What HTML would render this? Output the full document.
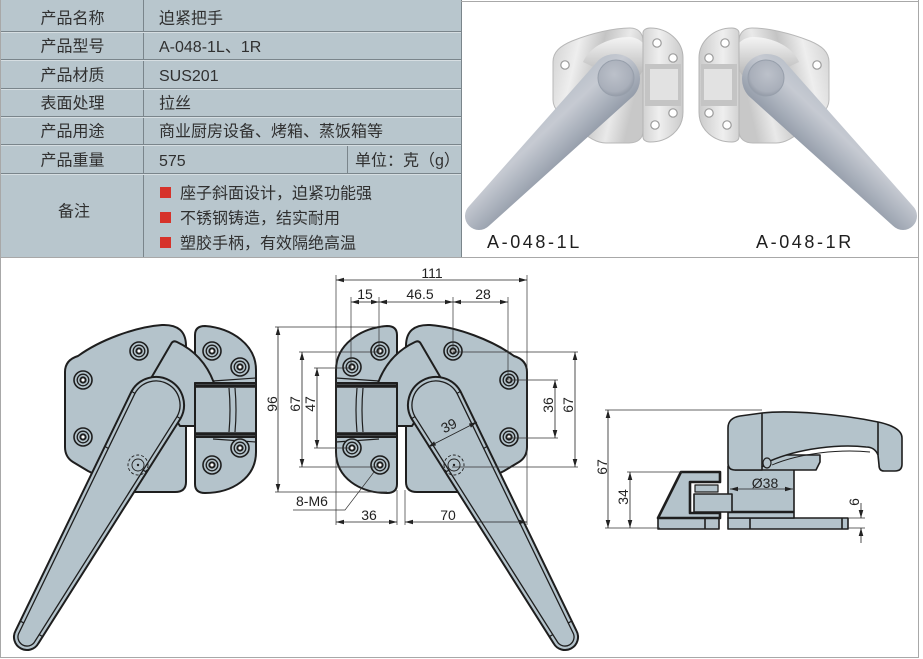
<!DOCTYPE html>
<html><head><meta charset="utf-8">
<style>
html,body{margin:0;padding:0;background:#fff;}
svg{display:block;}
text{font-family:"Liberation Sans","Noto Sans CJK SC",sans-serif;}
</style></head><body>
<svg xmlns="http://www.w3.org/2000/svg" xmlns:xlink="http://www.w3.org/1999/xlink" width="923" height="659" viewBox="0 0 923 659">
<defs>
<marker id="a" viewBox="0 0 8 6" refX="8" refY="3" markerWidth="8" markerHeight="6" markerUnits="userSpaceOnUse" orient="auto-start-reverse"><path d="M0,0.7 L8,3 L0,5.3 z" fill="#222"/></marker>
<linearGradient id="hg" gradientUnits="userSpaceOnUse" x1="599" y1="60" x2="633" y2="96">
<stop offset="0" stop-color="#bcc2cb"/><stop offset="0.3" stop-color="#c6cad2"/><stop offset="0.7" stop-color="#aab1bc"/><stop offset="1" stop-color="#959daa"/></linearGradient>
<radialGradient id="kg" cx="0.45" cy="0.4" r="0.6"><stop offset="0" stop-color="#bcc1ca"/><stop offset="0.8" stop-color="#a9afba"/><stop offset="1" stop-color="#959ca8"/></radialGradient>
<linearGradient id="mg" x1="0" y1="0" x2="1" y2="0.3"><stop offset="0" stop-color="#cfcfcf"/><stop offset="0.3" stop-color="#eeeeee"/><stop offset="0.55" stop-color="#c4c4c4"/><stop offset="0.8" stop-color="#e9e9e9"/><stop offset="1" stop-color="#c8c8c8"/></linearGradient>
<linearGradient id="mg2" x1="0" y1="0" x2="1" y2="0"><stop offset="0" stop-color="#d2d2d2"/><stop offset="0.4" stop-color="#efefef"/><stop offset="1" stop-color="#cbcbcb"/></linearGradient>
<linearGradient id="cg" x1="0" y1="0" x2="0" y2="1"><stop offset="0" stop-color="#f4f4f4"/><stop offset="1" stop-color="#b9b9b9"/></linearGradient>

<g id="hole"><circle r="9" fill="#b4c3cb" stroke="#1e1e1e" stroke-width="1.6"/><circle r="5.8" fill="none" stroke="#1e1e1e" stroke-width="1.3"/><circle r="2.6" fill="#fff"/></g>
<g id="phole"><circle r="4.2" fill="#fff" stroke="#9c9c9c" stroke-width="1.2"/></g>

<g id="asm" fill="#b4c3cb" stroke="#1e1e1e" stroke-width="2" stroke-linejoin="round">
 <path d="M65,372 Q65,360 78,356 C100,340 135,327 162,325 Q186,324 186,346 L186,482 Q186,492 175,492 L130,492 L88,471 L73,462 Q65,457 65,447 Z"/>
 <path d="M195,335 Q195,326 205,326 C232,328 256,345 256,370 L256,452 C256,478 232,493 205,493 Q195,493 195,484 Z"/>
 <path d="M150,380 L171,344 Q173,340 177,342 C194,350 207,364 214,383 L195,383 L195,426 L180,426 Z"/>
 <rect x="195" y="383" width="61" height="54"/>
 <g stroke-width="1.2" fill="none">
  <line x1="213" y1="381" x2="256" y2="378"/>
  <line x1="213" y1="439" x2="256" y2="442"/>
  <path d="M229,388 Q231,410 229,432 M235,388 Q237,410 235,432"/>
 </g>
 <line x1="195" y1="386" x2="256" y2="386" stroke-width="3.5"/>
 <line x1="195" y1="434" x2="256" y2="434" stroke-width="3.5"/>
 <use xlink:href="#hole" x="139" y="351"/>
 <use xlink:href="#hole" x="83" y="380"/>
 <use xlink:href="#hole" x="83" y="437"/>
 <use xlink:href="#hole" x="212" y="351"/>
 <use xlink:href="#hole" x="240" y="367"/>
 <use xlink:href="#hole" x="240" y="448"/>
 <use xlink:href="#hole" x="212" y="465"/>
 <path d="M131.5,391.4 A28,28 0 0 1 180.5,418.6 L38.4,643.3 A13,13 0 0 1 15.6,630.7 Z"/>
 <path fill="none" stroke-width="1.3" d="M135,393.3 A24,24 0 0 1 177,416.7 L34.9,641.4 A9,9 0 0 1 19.1,632.6 Z"/>
 <g stroke-width="1.2" fill="none">
  <line x1="131.5" y1="391.4" x2="135.4" y2="393.6"/>
  <line x1="104.8" y1="446.4" x2="108.7" y2="448.6"/>
  <line x1="20.2" y1="621" x2="24.1" y2="623.2"/>
  <line x1="180.5" y1="418.6" x2="176.6" y2="416.4"/>
  <line x1="146.4" y1="472" x2="142.5" y2="469.8"/>
  <line x1="42.7" y1="636.6" x2="38.8" y2="634.4"/>
  <circle cx="138" cy="465" r="10" stroke-width="0.9" stroke-dasharray="3 2"/>
  <circle cx="138" cy="465" r="6" stroke-width="0.9"/>
 </g>
 <circle cx="138" cy="465" r="1.2" fill="#222" stroke="none"/>
</g>

<g id="phl">
 <path d="M553,62 C553,52 560,46 572,41 C592,33 614,28 630,28 C638,28 643,33 643,41 L643,131 C643,139 637,143 629,143 L606,143 C596,143 587,137 578,128 C563,118 553,110 553,100 Z" fill="url(#mg)" stroke="#b8b8b8" stroke-width="1"/>
 <use xlink:href="#phole" x="565" y="65"/>
 <path d="M583,62 C590,46 610,37 630,37 C642,38 650,48 649,62 L640,75 L600,70 Z" fill="url(#cg)"/>
 <path d="M643,33 C643,30 646,28 650,28 C668,28 683,41 683,58 L683,112 C683,130 668,142 650,142 C646,142 643,140 643,137 Z" fill="url(#mg2)" stroke="#b4b4b4" stroke-width="1"/>
 <rect x="645" y="64" width="36" height="42" fill="#c4c4c4"/>
 <rect x="650" y="69" width="28" height="31" fill="#e2e2e2"/>
 <use xlink:href="#phole" x="657" y="43"/>
 <use xlink:href="#phole" x="673" y="58"/>
 <use xlink:href="#phole" x="673" y="113"/>
 <use xlink:href="#phole" x="655" y="125"/>
 <path d="M598.6,60.1 A25,25 0 0 1 633.4,95.9 L488.8,226 A14,14 0 0 1 469.2,206 Z" fill="url(#hg)"/>
 <circle cx="616" cy="78" r="18" fill="url(#kg)" stroke="#979fab" stroke-width="1"/>
</g>
</defs>

<rect x="0" y="0" width="923" height="659" fill="#fff"/>

<!-- table -->
<rect x="0" y="0" width="461" height="257" fill="#b8c6cd"/>
<g stroke="#7a858b" stroke-width="1">
 <line x1="0" y1="31.5" x2="461" y2="31.5"/>
 <line x1="0" y1="59.5" x2="461" y2="59.5"/>
 <line x1="0" y1="88.5" x2="461" y2="88.5"/>
 <line x1="0" y1="116.5" x2="461" y2="116.5"/>
 <line x1="0" y1="144.5" x2="461" y2="144.5"/>
 <line x1="0" y1="173.5" x2="461" y2="173.5"/>
 <line x1="143.5" y1="0" x2="143.5" y2="257"/>
 <line x1="347.5" y1="144" x2="347.5" y2="173"/>
 <line x1="461.5" y1="0" x2="461.5" y2="257"/>
</g>
<g stroke="#d6dee2" stroke-width="1">
 <line x1="0" y1="32.5" x2="461" y2="32.5"/>
 <line x1="0" y1="60.5" x2="461" y2="60.5"/>
 <line x1="0" y1="89.5" x2="461" y2="89.5"/>
 <line x1="0" y1="117.5" x2="461" y2="117.5"/>
 <line x1="0" y1="145.5" x2="461" y2="145.5"/>
 <line x1="0" y1="174.5" x2="461" y2="174.5"/>
</g>
<g font-size="16" fill="#303030">
 <g text-anchor="middle">
  <text x="72.5" y="23.5">产品名称</text>
  <text x="72.5" y="51.5">产品型号</text>
  <text x="72.5" y="80.5">产品材质</text>
  <text x="72.5" y="108.5">表面处理</text>
  <text x="72.5" y="136.5">产品用途</text>
  <text x="72.5" y="165.5">产品重量</text>
  <text x="74" y="216.5">备注</text>
 </g>
 <text x="159" y="23.5">迫紧把手</text>
 <text x="159" y="52">A-048-1L、1R</text>
 <text x="159" y="81">SUS201</text>
 <text x="159" y="108.5">拉丝</text>
 <text x="159" y="136.5">商业厨房设备、烤箱、蒸饭箱等</text>
 <text x="159" y="166">575</text>
 <text x="355" y="165.5">单位：克（g）</text>
 <text x="180" y="198.5">座子斜面设计，迫紧功能强</text>
 <text x="180" y="223.5">不锈钢铸造，结实耐用</text>
 <text x="180" y="248.5">塑胶手柄，有效隔绝高温</text>
</g>
<g fill="#d6332b">
 <rect x="160" y="187" width="11" height="11"/>
 <rect x="160" y="212" width="11" height="11"/>
 <rect x="160" y="237" width="11" height="11"/>
</g>

<!-- photo -->
<use xlink:href="#phl"/>
<use xlink:href="#phl" transform="matrix(-1 0 0 1 1382 0)"/>
<g font-size="18" fill="#1e1e1e" letter-spacing="2.6">
 <text x="487" y="248">A-048-1L</text>
 <text x="756" y="248">A-048-1R</text>
</g>

<!-- frame -->
<g stroke="#a8a8a8" stroke-width="1" fill="none">
 <line x1="0.5" y1="0" x2="0.5" y2="658"/>
 <line x1="0" y1="657.5" x2="919" y2="657.5"/>
 <line x1="918.5" y1="0" x2="918.5" y2="658"/>
 <line x1="461" y1="1.5" x2="919" y2="1.5"/>
 <line x1="0" y1="257.5" x2="919" y2="257.5"/>
</g>

<!-- drawings -->
<use xlink:href="#asm"/>
<use xlink:href="#asm" transform="matrix(-1 0 0 1 592 0)"/>

<!-- side view -->
<g fill="#b4c3cb" stroke="#1e1e1e" stroke-width="1.6" stroke-linejoin="round">
 <rect x="728" y="518" width="120" height="11"/>
 <rect x="658" y="518" width="61" height="11"/>
 <line x1="750" y1="518" x2="750" y2="529"/>
 <line x1="842" y1="518" x2="842" y2="529"/>
 <line x1="705" y1="518" x2="705" y2="529"/>
 <rect x="728" y="466" width="66" height="52"/>
 <line x1="728" y1="512" x2="794" y2="512" stroke-width="2.5"/>
 <path d="M658,518 L681,472 L720,472 L720,482 L690,482 L690,513 L720,513 L720,518 Z" stroke-width="2.6"/>
 <rect x="695" y="485" width="23" height="7" stroke-width="1.2"/>
 <rect x="694" y="494" width="38" height="18"/>
 <path d="M735,470 L816,470 L820,462 L820,455 L762,455 Z"/>
 <path d="M728,428 Q728,418 740,416 L762,413 C790,410 840,414 878,422 C892,425 902,430 902,438 L902,464 Q902,471 895,471 L884,471 Q879,471 879,465 L878,455 C876,450 872,447 866,447 C840,444 800,448 770,461 L762,467 L762,470 L735,470 Q728,470 728,463 Z"/>
 <line x1="762" y1="413" x2="762" y2="467"/>
 <line x1="878" y1="422" x2="878" y2="455"/>
 <path d="M870,452 C840,449 800,453 772,465" fill="none" stroke-width="0.9"/>
 <ellipse cx="767" cy="463" rx="4" ry="5" stroke-width="1.2"/>
</g>

<!-- dimension & extension lines -->
<g stroke="#333" stroke-width="0.7" fill="none">
 <path d="M336,275 V525 M527,275 V525 M351,297 V368 M379,297 V352 M453,297 V352 M508,297 V380 M397,490 V525 M405,490 V525
  M275,327 H382 M275,492 H387 M299,352 H378 M299,467 H378 M314,368 H350 M314,448 H350
  M508,380 H558 M508,438 H558 M453,352 H578 M452,467 H578
  M605,410 H762 M605,528 H660 M627,472 H682 M848,518 H865 M848,528 H865"/>
 <path d="M293,510 H345 L374,472"/>
</g>
<g stroke="#222" stroke-width="0.8" fill="none" marker-start="url(#a)" marker-end="url(#a)">
 <path d="M336,280 H527"/>
 <path d="M351,302 H379"/>
 <path d="M379,302 H453"/>
 <path d="M453,302 H508"/>
 <path d="M278,327 V492"/>
 <path d="M302,352 V467"/>
 <path d="M317,368 V448"/>
 <path d="M555,380 V438"/>
 <path d="M575,352 V467"/>
 <path d="M336,522 H397"/>
 <path d="M405,522 H527"/>
 <path d="M428,447 L477,422"/>
 <path d="M608,410 V528"/>
 <path d="M630,472 V528"/>
 <path d="M730,489 H793"/>
</g>
<g stroke="#222" stroke-width="0.8" fill="none" marker-end="url(#a)">
 <path d="M861,503 V518"/>
 <path d="M861,543 V528"/>
</g>

<g font-size="14" fill="#222" text-anchor="middle">
 <text x="432" y="278">111</text>
 <text x="365" y="299">15</text>
 <text x="420" y="299">46.5</text>
 <text x="483" y="299">28</text>
 <text transform="translate(277,404) rotate(-90)">96</text>
 <text transform="translate(300,404) rotate(-90)">67</text>
 <text transform="translate(315,404) rotate(-90)">47</text>
 <text transform="translate(553,405) rotate(-90)">36</text>
 <text transform="translate(573,405) rotate(-90)">67</text>
 <text x="369" y="520">36</text>
 <text x="448" y="520">70</text>
 <text transform="translate(451,430) rotate(-27)">39</text>
 <text transform="translate(607,467) rotate(-90)">67</text>
 <text transform="translate(628,497) rotate(-90)">34</text>
 <text x="765" y="488">Ø38</text>
 <text transform="translate(859,502) rotate(-90)">6</text>
 <text x="296" y="506" text-anchor="start">8-M6</text>
</g>
</svg>
</body></html>
